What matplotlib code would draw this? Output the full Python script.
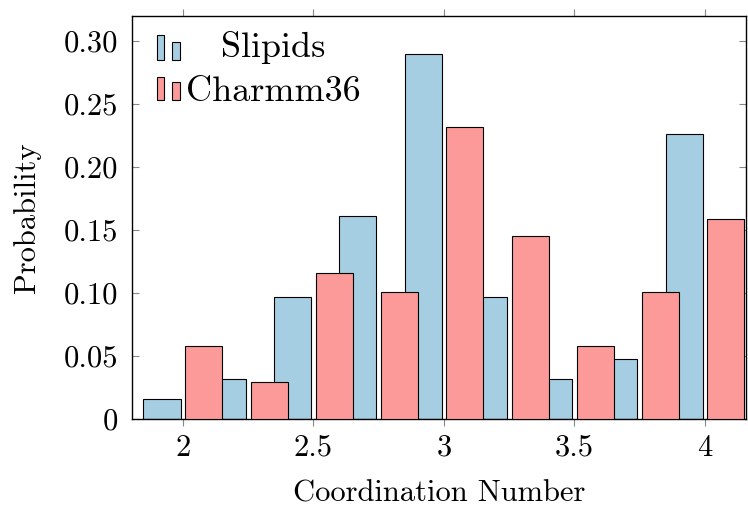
import matplotlib
matplotlib.use("Agg")
import matplotlib.pyplot as plt
from matplotlib.patches import Rectangle
import numpy as np

# coordination number bins and probabilities
coord = [2.0, 2.25, 2.5, 2.75, 3.0, 3.25, 3.5, 3.75, 4.0]
slipids = [0.016, 0.032, 0.097, 0.161, 0.290, 0.097, 0.032, 0.048, 0.226]
charmm36 = [0.058, 0.029, 0.116, 0.101, 0.232, 0.145, 0.058, 0.101, 0.159]
series_names = ["Slipids", "Charmm36"]
xtick_vals = [2, 2.5, 3, 3.5, 4]
xtick_labels = ["2", "2.5", "3", "3.5", "4"]
ytick_vals = [0, 0.05, 0.10, 0.15, 0.20, 0.25, 0.30]
ytick_labels = ["0", "0.05", "0.10", "0.15", "0.20", "0.25", "0.30"]

blue = "#a6cee3"
red = "#fb9a99"

plt.rcParams["font.family"] = "serif"
plt.rcParams["font.serif"] = ["cmr10"]
plt.rcParams["axes.formatter.use_mathtext"] = True

W, H = 748, 508
fig = plt.figure(figsize=(W / 100, H / 100), dpi=100)
ax = fig.add_axes([132 / W, (H - 419) / H, (746 - 132) / W, (419 - 16) / H])

x = np.array(coord)
ax.bar(x - 0.08, slipids, width=0.142, color=blue, edgecolor="black", linewidth=0.8, zorder=2)
ax.bar(x + 0.08, charmm36, width=0.142, color=red, edgecolor="black", linewidth=0.8, zorder=3)

ax.set_xlim(1.805, 4.157)
ax.set_ylim(0, 0.32)
ax.set_xticks(xtick_vals)
ax.set_xticklabels(xtick_labels)
ax.set_yticks(ytick_vals)
ax.set_yticklabels(ytick_labels)
ax.tick_params(axis="x", direction="out", top=True, length=5, color="#888888", labelsize=22, pad=6)
ax.tick_params(axis="y", direction="in", right=True, length=5, color="#888888", labelsize=22, pad=10)
for s in ax.spines.values():
    s.set_linewidth(1.0)

ax.set_xlabel("Coordination Number", fontsize=22, labelpad=13)
ax.set_ylabel("Probability", fontsize=22, labelpad=16)

# pgfplots-style legend: two small bars per entry, centred text
def px(xp, yp):
    return (xp - 132) / 614, (419 - yp) / 403

for (col, name, ytop, ytop2, ybot, ytxt) in [(blue, series_names[0], 35, 42, 60, 47),
                                              (red, series_names[1], 77, 82, 100, 92)]:
    x0, y0 = px(157, ybot)
    x1, y1 = px(164, ytop)
    ax.add_patch(Rectangle((x0, y0), x1 - x0, y1 - y0, transform=ax.transAxes,
                           facecolor=col, edgecolor="black", linewidth=0.8, zorder=5))
    x0, y0 = px(172, ybot)
    x1, y1 = px(180, ytop2)
    ax.add_patch(Rectangle((x0, y0), x1 - x0, y1 - y0, transform=ax.transAxes,
                           facecolor=col, edgecolor="black", linewidth=0.8, zorder=5))
    tx, ty = px(273, ytxt)
    ax.text(tx, ty, name, transform=ax.transAxes, ha="center", va="center", fontsize=26, zorder=5)

fig.savefig("out.png", dpi=100)
